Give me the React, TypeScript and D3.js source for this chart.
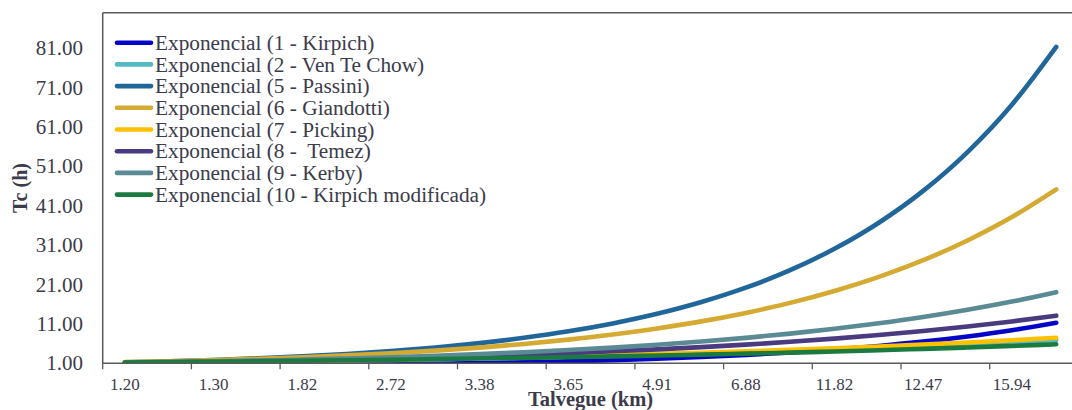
import React from "react";
import * as d3 from "d3";

// category positions (index along the Talvegue category axis)
const pointIndex = [0, 1, 2, 3, 4, 5, 6, 7, 8, 9, 10, 11, 12, 13, 14, 15, 16, 17, 18, 19, 20, 21];
const categoryCount = 22;
const xTickLabels = ["1.20", "1.30", "1.82", "2.72", "3.38", "3.65", "4.91", "6.88", "11.82", "12.47", "15.94"];
const xTickLabelIndex = [0, 2, 4, 6, 8, 10, 12, 14, 16, 18, 20];
const yTicks = [1, 11, 21, 31, 41, 51, 61, 71, 81];

const kirpich = [0.24, 0.28, 0.34, 0.41, 0.49, 0.59, 0.71, 0.86, 1.03, 1.24, 1.49, 1.79, 2.16, 2.59, 3.12, 3.75, 4.5, 5.41, 6.5, 7.82, 9.4, 11.3];
const venTeChow = [1.15, 1.25, 1.36, 1.48, 1.61, 1.76, 1.91, 2.09, 2.27, 2.47, 2.7, 2.94, 3.2, 3.48, 3.79, 4.13, 4.5, 4.9, 5.34, 5.82, 6.34, 6.9];
const passini = [1.25, 1.52, 1.85, 2.26, 2.76, 3.37, 4.11, 5.01, 6.12, 7.47, 9.11, 11.12, 13.56, 16.55, 20.19, 24.64, 30.07, 36.69, 44.76, 54.62, 66.64, 81.32];
const giandotti = [1.29, 1.52, 1.81, 2.14, 2.53, 3.0, 3.56, 4.21, 4.99, 5.91, 7.0, 8.3, 9.83, 11.64, 13.79, 16.34, 19.36, 22.93, 27.16, 32.18, 38.12, 45.16];
const picking = [1.17, 1.28, 1.4, 1.53, 1.67, 1.82, 1.99, 2.17, 2.37, 2.59, 2.83, 3.09, 3.38, 3.69, 4.03, 4.4, 4.81, 5.26, 5.74, 6.27, 6.85, 7.48];
const temez = [1.11, 1.25, 1.4, 1.58, 1.77, 1.99, 2.24, 2.52, 2.84, 3.19, 3.59, 4.04, 4.54, 5.11, 5.74, 6.46, 7.27, 8.18, 9.2, 10.34, 11.63, 13.09];
const kerby = [1.14, 1.31, 1.49, 1.71, 1.95, 2.23, 2.55, 2.92, 3.34, 3.82, 4.36, 4.99, 5.7, 6.52, 7.46, 8.53, 9.75, 11.15, 12.74, 14.57, 16.66, 19.05];
const kirpichMod = [1.21, 1.31, 1.41, 1.52, 1.64, 1.76, 1.9, 2.05, 2.21, 2.38, 2.56, 2.76, 2.97, 3.2, 3.45, 3.72, 4.01, 4.32, 4.66, 5.02, 5.41, 5.83];

const seriesNames = [
  "Exponencial (1 - Kirpich)",
  "Exponencial (2 - Ven Te Chow)",
  "Exponencial (5 - Passini)",
  "Exponencial (6 - Giandotti)",
  "Exponencial (7 - Picking)",
  "Exponencial (8 -  Temez)",
  "Exponencial (9 - Kerby)",
  "Exponencial (10 - Kirpich modificada)",
];
const seriesValues = [kirpich, venTeChow, passini, giandotti, picking, temez, kerby, kirpichMod];
const seriesColors = ["#0505C8", "#55B8C3", "#20669A", "#D4AA33", "#FFC000", "#4A3A80", "#5A8A93", "#1A7A40"];

const W = 1072;
const H = 410;
const left = 102.7;
const right = 1078.4;
const top = 12.7;
const bottom = 363.3;
const axisColor = "#5a5a5a";
const textColor = "#3b3b4a";
const font = "'Liberation Serif', 'Times New Roman', serif";

export default function App() {
  const x = d3.scaleLinear().domain([-0.5, categoryCount - 0.5]).range([left, right]);
  const y = d3.scaleLinear().domain([1, 90]).range([bottom, top]);
  const line = d3
    .line<number>()
    .x((_, i) => x(pointIndex[i]))
    .y((v) => y(v))
    .curve(d3.curveMonotoneX);

  const boundaries = d3.range(0, categoryCount, 2).map((i) => i - 0.5);

  return (
    <svg
      width={W}
      height={H}
      style={{ position: "absolute", left: 0, top: 0, display: "block", background: "#fff" }}
      fontFamily={font}
    >
      <defs>
        <clipPath id="plotClip">
          <rect x={left} y={top} width={right - left} height={bottom - top} />
        </clipPath>
      </defs>

      {/* y tick labels */}
      {yTicks.map((t) => (
        <text key={t} x={83} y={y(t)} dy="0.34em" textAnchor="end" fontSize={21} fill={textColor}>
          {t.toFixed(2)}
        </text>
      ))}

      {/* series */}
      <g clipPath="url(#plotClip)">
        {seriesValues.map((vals, k) => (
          <path
            key={k}
            d={line(vals) || ""}
            fill="none"
            stroke={seriesColors[k]}
            strokeWidth={4.6}
            strokeLinecap="round"
            strokeLinejoin="round"
          />
        ))}
      </g>

      {/* frame */}
      <line x1={left} x2={left} y1={top} y2={bottom} stroke={axisColor} strokeWidth={1.5} />
      <line x1={left} x2={right} y1={top} y2={top} stroke={axisColor} strokeWidth={1.5} />
      <line x1={left} x2={right} y1={bottom} y2={bottom} stroke={axisColor} strokeWidth={1.5} />
      {boundaries.map((b) => (
        <line key={b} x1={x(b)} x2={x(b)} y1={bottom} y2={bottom + 6} stroke={axisColor} strokeWidth={1.3} />
      ))}

      {/* x tick labels */}
      {xTickLabels.map((lab, i) => (
        <text key={lab} x={x(xTickLabelIndex[i])} y={389.5} textAnchor="middle" fontSize={17} fill={textColor}>
          {lab}
        </text>
      ))}

      {/* axis titles */}
      <text x={(left + right) / 2} y={405.5} textAnchor="middle" fontSize={20.5} fontWeight="bold" fill={textColor}>
        Talvegue (km)
      </text>
      <text
        transform={`translate(27, ${(top + bottom) / 2}) rotate(-90)`}
        textAnchor="middle"
        fontSize={20}
        fontWeight="bold"
        fill={textColor}
      >
        Tc (h)
      </text>

      {/* legend */}
      {seriesNames.map((name, k) => {
        const cy = 42.7 + k * 21.7;
        return (
          <g key={name}>
            <line x1={117} x2={151} y1={cy} y2={cy} stroke={seriesColors[k]} strokeWidth={4.6} strokeLinecap="round" />
            <text x={155} y={cy} dy="0.34em" fontSize={21.3} fill={textColor} style={{ whiteSpace: "pre" }}>
              {name}
            </text>
          </g>
        );
      })}
    </svg>
  );
}
